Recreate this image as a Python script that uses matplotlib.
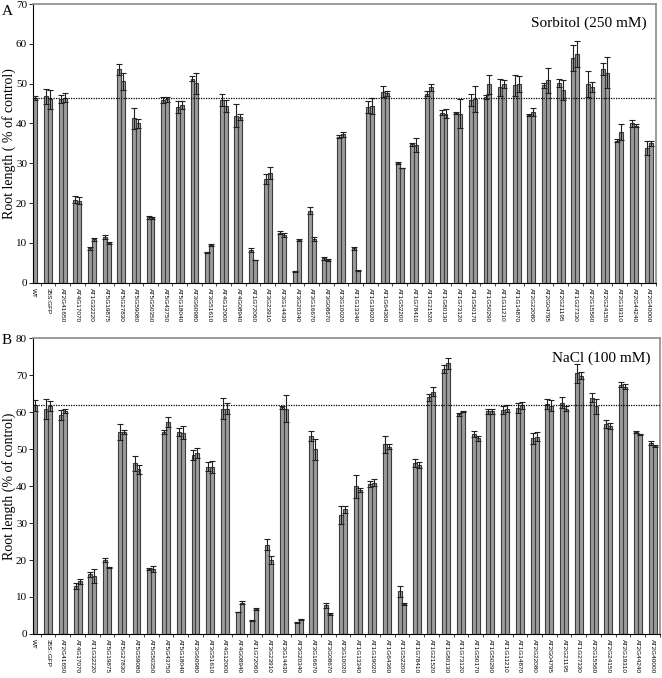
import matplotlib
matplotlib.use("Agg")
import matplotlib.pyplot as plt
import numpy as np

plt.rcParams["font.family"] = ["Liberation Serif", "DejaVu Serif"]

genes = ["WT", "35S:GFP", "AT2G41650", "AT4G17070", "AT1G32220", "AT5G19875",
         "AT5G27830", "AT5G59080", "AT5G50350", "AT5G43750", "AT5G18040",
         "AT3G60980", "AT3G51610", "AT4G12000", "AT4G08940", "AT1G72060",
         "AT3G23910", "AT3G14430", "AT3G20340", "AT3G16670", "AT3G08670",
         "AT3G10020", "AT1G13340", "AT1G19020", "AT1G64360", "AT1G52200",
         "AT1G78410", "AT1G21520", "AT1G80130", "AT1G73120", "AT1G50170",
         "AT1G50290", "AT1G11210", "AT1G14870", "AT2G22080", "AT2G04795",
         "AT2G21195", "AT1G27330", "AT2G15560", "AT2G24150", "AT2G19310",
         "AT2G44240", "AT2G40000"]
genes_b = ["WT", "35S::GFP"] + genes[2:]

# Sorbitol (250 mM): two lines per construct
sorb_1 = [46.3, 46.8, 46.1, 20.9, 8.6, 11.6, 53.6, 41.3, 16.4, 45.9, 44.2,
          51.3, 7.6, 45.9, 42.0, 8.2, 26.0, 12.6, 2.9, 18.1, 6.1,
          36.7, 8.6, 44.1, 48.0, 30.0, 34.8, 47.5, 42.7, 42.7, 45.9,
          46.6, 49.1, 49.6, 42.1, 49.6, 50.1, 56.4, 49.9, 53.6, 35.7,
          40.0, 33.8]
sorb_1_err = [0.5, 1.9, 1.0, 0.9, 0.4, 0.5, 1.4, 2.7, 0.4, 0.7, 1.5,
              0.7, 0.1, 1.6, 2.8, 0.5, 1.2, 0.3, 0.1, 0.9, 0.4,
              0.4, 0.5, 1.5, 1.4, 0.3, 0.4, 0.6, 0.6, 0.3, 1.4,
              0.5, 2.2, 2.6, 0.3, 0.6, 1.0, 3.2, 3.2, 1.5, 0.4,
              1.0, 1.8]
sorb_2 = [46.3, 46.1, 46.5, 20.6, 10.9, 10.0, 50.6, 40.0, 16.3, 46.1, 44.6,
          50.1, 9.5, 44.4, 41.7, 5.7, 27.6, 12.0, 10.7, 11.0, 5.7,
          37.3, 3.0, 44.5, 47.6, 28.8, 34.6, 49.1, 42.5, 42.5, 46.2,
          49.8, 49.8, 49.9, 42.8, 50.8, 48.4, 57.5, 49.1, 52.8, 37.8,
          39.4, 35.0]
sorb_2_err = [0.5, 2.4, 1.2, 0.9, 0.4, 0.2, 2.2, 1.2, 0.2, 0.6, 1.0,
              2.6, 0.3, 1.5, 0.8, 0.1, 1.5, 0.5, 0.2, 0.6, 0.3,
              0.6, 0.1, 2.0, 0.6, 0.1, 1.8, 0.9, 1.1, 3.6, 3.3,
              2.5, 1.0, 2.0, 1.0, 3.2, 2.5, 3.2, 1.3, 3.8, 2.0,
              0.4, 0.6]

# NaCl (100 mM)
nacl_1 = [61.9, 60.9, 59.3, 13.0, 16.1, 20.0, 54.6, 46.2, 17.5, 54.7, 54.6,
          48.4, 45.3, 61.0, 5.9, 3.6, 24.1, 61.3, 3.1, 53.6, 7.8,
          32.2, 39.9, 40.6, 51.4, 11.5, 46.2, 64.0, 71.6, 59.5, 54.1,
          60.2, 60.6, 61.2, 52.9, 62.2, 62.6, 70.5, 63.9, 56.8, 67.5,
          54.7, 51.6]
nacl_1_err = [1.5, 2.8, 1.3, 0.8, 0.6, 0.6, 2.2, 2.0, 0.3, 0.6, 1.0,
              1.4, 1.1, 2.9, 0.1, 0.2, 1.5, 0.4, 0.1, 1.4, 0.7,
              2.5, 3.0, 0.8, 2.3, 1.5, 1.1, 1.0, 1.1, 0.4, 0.8,
              0.6, 1.0, 1.3, 1.4, 1.4, 1.4, 2.5, 1.2, 1.0, 0.6,
              0.3, 0.5]
nacl_2 = [61.9, 61.7, 60.3, 14.2, 15.7, 18.0, 54.7, 44.5, 17.5, 57.4, 54.5,
          49.0, 45.1, 61.0, 8.5, 6.7, 20.0, 61.0, 4.0, 50.0, 5.4,
          33.7, 39.0, 40.9, 50.7, 8.1, 45.7, 65.6, 73.2, 60.2, 52.9,
          60.2, 61.0, 61.9, 53.4, 61.7, 61.0, 69.9, 61.6, 56.3, 66.9,
          54.0, 50.9]
nacl_2_err = [1.5, 1.3, 0.6, 0.7, 1.8, 0.1, 0.5, 1.2, 0.8, 1.4, 1.8,
              1.3, 1.6, 1.6, 0.4, 0.2, 1.0, 3.7, 0.1, 2.8, 0.3,
              0.9, 0.6, 1.0, 0.6, 0.3, 0.8, 1.2, 1.5, 0.1, 0.8,
              0.6, 0.9, 0.9, 1.3, 1.5, 0.8, 1.0, 2.0, 0.8, 0.7,
              0.1, 0.2]


def draw_panel(ax, labels, v1, e1, v2, e2, ymax, ref, title, right_pad):
    x = np.arange(len(labels))
    w = 0.27
    for off, vals, errs in ((-w / 2, v1, e1), (w / 2, v2, e2)):
        ax.bar(x + off, vals, width=w, color="#9c9c9c", edgecolor="#3c3c3c",
               linewidth=0.8, zorder=2)
        ax.errorbar(x + off, vals, yerr=errs, fmt="none", ecolor="#202020",
                    elinewidth=0.8, capsize=2, capthick=0.8, zorder=3)
    ax.axhline(ref, color="black", linestyle=(0, (1, 1)), linewidth=0.9, zorder=4)
    ax.set_xlim(0, len(labels) - 1 + right_pad)
    ax.set_ylim(0, ymax)
    ax.set_yticks(np.arange(0, ymax + 1, 10))
    ax.tick_params(axis="y", labelsize=8, length=3, width=0.6, pad=1.5)
    ax.set_xticks(x)
    ax.set_xticklabels(labels, rotation=-90, fontsize=4.6,
                       family=["Liberation Sans", "DejaVu Sans"])
    ax.set_xticks(x + 0.5, minor=True)
    ax.tick_params(axis="x", which="major", length=0, pad=4)
    ax.tick_params(axis="x", which="minor", length=2, width=0.5)
    for side in ("top", "right"):
        ax.spines[side].set_color("#8c8c8c")
        ax.spines[side].set_linewidth(1.2)
    ax.spines["left"].set_linewidth(0.8)
    ax.spines["bottom"].set_linewidth(0.8)
    ax.text(0.985, 0.955, title, transform=ax.transAxes, ha="right",
            va="top", fontsize=11)


fig = plt.figure(figsize=(6.62, 6.78), dpi=100)
ax_a = fig.add_axes([0.0503, 0.583, 0.9406, 0.411])
ax_b = fig.add_axes([0.0503, 0.065, 0.9466, 0.436])

draw_panel(ax_a, genes, sorb_1, sorb_1_err, sorb_2, sorb_2_err, 70, 46.3,
           "Sorbitol (250 mM)", 0.37)
draw_panel(ax_b, genes_b, nacl_1, nacl_1_err, nacl_2, nacl_2_err, 80, 61.9,
           "NaCl (100 mM)", 0.45)

fig.text(0.013, 0.7885, "Root length ( % of control)", rotation=90,
         ha="center", va="center", fontsize=10)
fig.text(0.013, 0.283, "Root length (% of control)", rotation=90,
         ha="center", va="center", fontsize=10)
fig.text(0.003, 0.983, "A", ha="left", va="center", fontsize=11)
fig.text(0.003, 0.498, "B", ha="left", va="center", fontsize=11)

fig.savefig("out.png", dpi=100)
